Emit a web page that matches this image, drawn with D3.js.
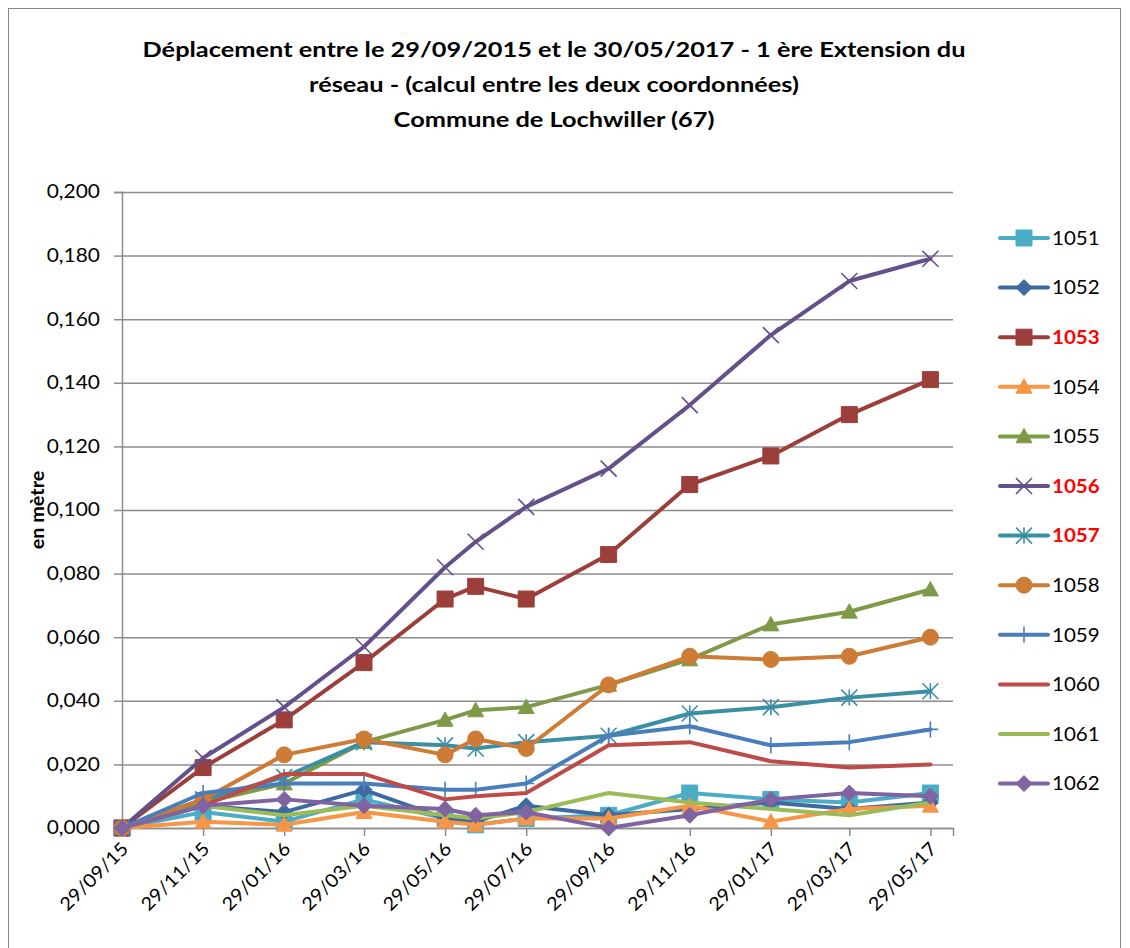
<!DOCTYPE html>
<html>
<head>
<meta charset="utf-8">
<script src="https://cdn.jsdelivr.net/npm/d3@7"></script>
<style>
    body { margin: 0; background: #fff; }
    text { font-family: Lato, "Open Sans", sans-serif; }
</style>
</head>
<body>
<div id="chart"></div>
<script>

// dates of the measurements
const dates = ["2015-09-29", "2015-11-29", "2016-01-29", "2016-03-29", "2016-05-29", "2016-06-21",
    "2016-07-29", "2016-09-29", "2016-11-29", "2017-01-29", "2017-03-29", "2017-05-29"];

// x axis labels (every 2 months)
const tickDates = ["2015-09-29", "2015-11-29", "2016-01-29", "2016-03-29", "2016-05-29", "2016-07-29",
    "2016-09-29", "2016-11-29", "2017-01-29", "2017-03-29", "2017-05-29"];

const yTicks = [0, 0.02, 0.04, 0.06, 0.08, 0.1, 0.12, 0.14, 0.16, 0.18, 0.2];

// displacement in metres, one list per point
const s1051 = [0, 0.005, 0.002, 0.009, 0.003, 0.001, 0.003, 0.004, 0.011, 0.009, 0.008, 0.011];
const s1052 = [0, 0.007, 0.005, 0.012, 0.003, 0.002, 0.007, 0.004, 0.006, 0.008, 0.006, 0.008];
const s1053 = [0, 0.019, 0.034, 0.052, 0.072, 0.076, 0.072, 0.086, 0.108, 0.117, 0.130, 0.141];
const s1054 = [0, 0.002, 0.001, 0.005, 0.002, 0.001, 0.003, 0.003, 0.007, 0.002, 0.006, 0.007];
const s1055 = [0, 0.008, 0.014, 0.027, 0.034, 0.037, 0.038, 0.045, 0.053, 0.064, 0.068, 0.075];
const s1056 = [0, 0.022, 0.038, 0.057, 0.082, 0.090, 0.101, 0.113, 0.133, 0.155, 0.172, 0.179];
const s1057 = [0, 0.009, 0.016, 0.027, 0.026, 0.025, 0.027, 0.029, 0.036, 0.038, 0.041, 0.043];
const s1058 = [0, 0.009, 0.023, 0.028, 0.023, 0.028, 0.025, 0.045, 0.054, 0.053, 0.054, 0.060];
const s1059 = [0, 0.011, 0.014, 0.014, 0.012, 0.012, 0.014, 0.029, 0.032, 0.026, 0.027, 0.031];
const s1060 = [0, 0.007, 0.017, 0.017, 0.009, 0.010, 0.011, 0.026, 0.027, 0.021, 0.019, 0.020];
const s1061 = [0, 0.007, 0.004, 0.007, 0.004, 0.003, 0.005, 0.011, 0.008, 0.006, 0.004, 0.008];
const s1062 = [0, 0.007, 0.009, 0.007, 0.006, 0.004, 0.005, 0.000, 0.004, 0.009, 0.011, 0.010];

const seriesNames = ["1051", "1052", "1053", "1054", "1055", "1056", "1057", "1058", "1059", "1060", "1061", "1062"];
const seriesValues = [s1051, s1052, s1053, s1054, s1055, s1056, s1057, s1058, s1059, s1060, s1061, s1062];
const seriesColors = ["#4BACC6", "#3C6AA1", "#9C3F3B", "#F79646", "#7E9A48", "#64508A",
    "#3B8FA3", "#CD7B35", "#4A7EBB", "#BE4B48", "#9BBB59", "#8064A2"];
const seriesMarkers = ["square", "diamond", "square", "triangle", "triangle", "x",
    "asterisk", "circle", "plus", "none", "none", "diamond"];
// points highlighted in red in the legend
const highlighted = ["1053", "1056", "1057"];

const parseDate = d3.timeParse("%Y-%m-%d");
const formatDate = d3.timeFormat("%d/%m/%y");
const formatY = d => d3.format(".3f")(d).replace(".", ",");

const W = 1130, H = 948;
const plot = {left: 122, right: 953, top: 192, bottom: 828};

// the original text looks widened, stretch glyphs horizontally
function stretch(sel, k) {
    sel.each(function () {
        let len = this.getComputedTextLength();
        d3.select(this)
            .attr("textLength", len * k)
            .attr("lengthAdjust", "spacingAndGlyphs");
    });
}

let svg = d3.select("#chart").append("svg")
    .attr("width", W)
    .attr("height", H);

// chart border
svg.append("rect")
    .attr("x", 8.5).attr("y", 8.5)
    .attr("width", 1112).attr("height", 960)
    .attr("fill", "none")
    .attr("stroke", "#888")
    .attr("stroke-width", 1);

let x = d3.scaleTime()
    .domain([parseDate("2015-09-29"), parseDate("2017-06-15")])
    .range([plot.left, plot.right]);

let y = d3.scaleLinear()
    .domain([0, 0.2])
    .range([plot.bottom, plot.top]);

// title
const titleLines = [
    {text: "Déplacement entre le 29/09/2015 et le 30/05/2017 - 1 ère Extension du", y: 57},
    {text: "réseau - (calcul entre les deux coordonnées)", y: 92},
    {text: "Commune de Lochwiller (67)", y: 127}
];
let titles = svg.selectAll(".title").data(titleLines)
    .enter().append("text")
    .attr("class", "title")
    .attr("x", 554)
    .attr("y", d => d.y)
    .attr("text-anchor", "middle")
    .attr("font-size", 21)
    .attr("font-weight", "bold")
    .text(d => d.text);
let titleK = 823 / titles.node().getComputedTextLength();
stretch(titles, titleK);

// horizontal grid
svg.append("g")
    .attr("class", "grid")
    .attr("transform", `translate(${plot.left}, 0)`)
    .call(d3.axisLeft(y).tickValues(yTicks).tickSize(-(plot.right - plot.left)).tickFormat(""))
    .call(g => g.select(".domain").remove())
    .call(g => g.selectAll("line").attr("stroke", "#8c8c8c").attr("stroke-width", 1.5));

// y axis
let yAxis = svg.append("g")
    .attr("transform", `translate(${plot.left}, 0)`)
    .call(d3.axisLeft(y).tickValues(yTicks).tickSize(8).tickPadding(14).tickFormat(formatY));
yAxis.select(".domain").attr("stroke", "#8c8c8c").attr("stroke-width", 1.5);
yAxis.selectAll(".tick line").attr("stroke", "#8c8c8c").attr("stroke-width", 1.5);
yAxis.selectAll(".tick text")
    .attr("font-size", 18.5)
    .attr("fill", "#000")
    .call(stretch, 1.13);

// x axis
let xAxis = svg.append("g")
    .attr("transform", `translate(0, ${plot.bottom})`)
    .call(d3.axisBottom(x).tickValues(tickDates.map(parseDate)).tickSize(8).tickFormat(formatDate));
xAxis.select(".domain").attr("stroke", "#8c8c8c").attr("stroke-width", 1.5);
xAxis.selectAll(".tick line").attr("stroke", "#8c8c8c").attr("stroke-width", 1.5);
xAxis.selectAll(".tick text")
    .attr("font-size", 18.5)
    .attr("fill", "#000")
    .attr("text-anchor", "end")
    .attr("dy", null)
    .attr("y", 0)
    .attr("transform", "translate(7, 22) rotate(-45)")
    .call(stretch, 1.08);

// y axis title
svg.append("text")
    .attr("transform", "translate(44, 510) rotate(-90)")
    .attr("text-anchor", "middle")
    .attr("font-size", 18)
    .attr("font-weight", "bold")
    .text("en mètre")
    .call(stretch, 1.1);

// marker shapes
function markerPath(type, h) {
    switch (type) {
        case "square": return `M${-h},${-h}h${2 * h}v${2 * h}h${-2 * h}Z`;
        case "diamond": return `M0,${-h}L${h},0L0,${h}L${-h},0Z`;
        case "triangle": return `M0,${-h}L${h},${h * 0.8}L${-h},${h * 0.8}Z`;
        case "x": return `M${-h},${-h}L${h},${h}M${-h},${h}L${h},${-h}`;
        case "asterisk": return `M${-h},${-h}L${h},${h}M${-h},${h}L${h},${-h}M0,${-h}V${h}`;
        case "plus": return `M0,${-h}V${h}M${-h},0H${h}`;
        case "circle": return `M${h},0A${h},${h} 0 1,1 ${-h},0A${h},${h} 0 1,1 ${h},0Z`;
        default: return "";
    }
}
const strokeOnly = ["x", "asterisk", "plus"];

function drawMarker(g, type, color) {
    if (type === "none") return;
    let open = strokeOnly.includes(type);
    g.append("path")
        .attr("d", markerPath(type, 8))
        .attr("fill", open ? "none" : color)
        .attr("stroke", color)
        .attr("stroke-width", open ? 1.6 : 1);
}

let line = d3.line()
    .x(d => x(d.date))
    .y(d => y(d.value));

let series = seriesNames.map((name, i) => ({
    name: name,
    color: seriesColors[i],
    marker: seriesMarkers[i],
    points: dates.map((d, j) => ({date: parseDate(d), value: seriesValues[i][j]}))
}));

series.forEach(s => {
    let g = svg.append("g").attr("class", "series");
    g.append("path")
        .datum(s.points)
        .attr("d", line)
        .attr("fill", "none")
        .attr("stroke", s.color)
        .attr("stroke-width", 4)
        .attr("stroke-linejoin", "round")
        .attr("stroke-linecap", "round");
    s.points.forEach(p => {
        let m = g.append("g").attr("transform", `translate(${x(p.date)}, ${y(p.value)})`);
        drawMarker(m, s.marker, s.color);
    });
});

// legend
let legend = svg.append("g").attr("class", "legend");
series.forEach((s, i) => {
    let item = legend.append("g").attr("transform", `translate(1000, ${238 + i * 49.6})`);
    item.append("line")
        .attr("x1", 0).attr("x2", 48)
        .attr("stroke", s.color)
        .attr("stroke-width", 4)
        .attr("stroke-linecap", "round");
    let m = item.append("g").attr("transform", "translate(24, 0)");
    drawMarker(m, s.marker, s.color);
    let red = highlighted.includes(s.name);
    item.append("text")
        .attr("x", 52)
        .attr("dy", "0.36em")
        .attr("font-size", 19)
        .attr("font-weight", red ? "bold" : "normal")
        .attr("fill", red ? "#ff0000" : "#000")
        .text(s.name)
        .call(stretch, 1.08);
});

</script>
</body>
</html>
